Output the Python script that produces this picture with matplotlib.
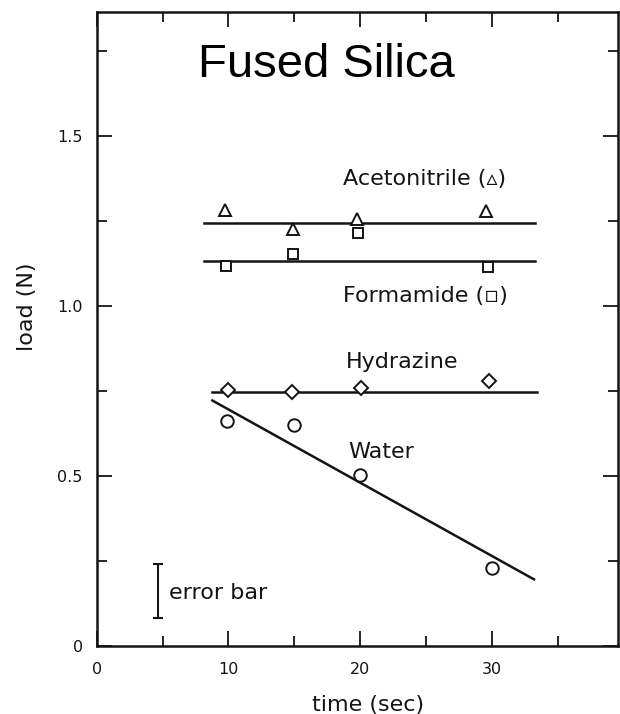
#!/usr/bin/env python
"""Load versus time for liquids on fused silica."""

import matplotlib.pyplot as plt
import matplotlib.ticker as mticker


# Data
# ----

# acetonitrile (triangles) and its mean level
acn_time = [9.74, 14.88, 19.74, 29.56]
acn_load = [1.282, 1.225, 1.254, 1.279]
acn_fit_time = [8.15, 33.28]
acn_fit_load = [1.242, 1.242]

# formamide (squares) and its mean level
frm_time = [9.82, 14.93, 19.82, 29.73]
frm_load = [1.117, 1.152, 1.213, 1.113]
frm_fit_time = [8.15, 33.28]
frm_fit_load = [1.132, 1.132]

# hydrazine (diamonds) and its mean level
hyd_time = [9.95, 14.81, 20.07, 29.81]
hyd_load = [0.752, 0.745, 0.757, 0.779]
hyd_fit_time = [8.73, 33.41]
hyd_fit_load = [0.747, 0.747]

# water (circles) and its linear decay
wat_time = [9.87, 14.96, 19.99, 29.99]
wat_load = [0.661, 0.649, 0.502, 0.229]
wat_fit_time = [8.78, 33.2]
wat_fit_load = [0.721, 0.195]

# typical error bar
err_time = [4.65]
err_load = [0.16]
err_half = [0.08]

# axis ticks
xticks = [0, 10, 20, 30]
xlabels = ['0', '10', '20', '30']
yticks = [0, 0.5, 1.0, 1.5]
ylabels = ['0', '0.5', '1.0', '1.5']


# Figure
# ------

plt.rc('font', family='DejaVu Sans')
ink = '#141414'

fig = plt.figure(figsize=(6.2, 7.14), dpi=100)
ax = fig.add_axes([0.156, 0.0957, 0.8408, 0.8868])
ax.set_xlim(0, 39.58)
ax.set_ylim(0, 1.862)

# spines and inward ticks on all four sides
for spine in ax.spines.values():
    spine.set_linewidth(1.8)
    spine.set_color(ink)
ax.set_xticks(xticks)
ax.set_xticklabels(xlabels)
ax.set_yticks(yticks)
ax.set_yticklabels(ylabels)
ax.xaxis.set_minor_locator(mticker.MultipleLocator(5))
ax.yaxis.set_minor_locator(mticker.MultipleLocator(0.25))
ax.tick_params(which='both', direction='in', top=True, right=True,
               color=ink, labelcolor=ink, labelsize=11.5)
ax.tick_params(which='major', length=11, width=1.3)
ax.tick_params(which='minor', length=7, width=1.3)
ax.tick_params(axis='x', pad=12)
ax.tick_params(axis='y', pad=10)

# fitted lines
kw = dict(color=ink, lw=1.8, zorder=2)
ax.plot(acn_fit_time, acn_fit_load, **kw)
ax.plot(frm_fit_time, frm_fit_load, **kw)
ax.plot(hyd_fit_time, hyd_fit_load, **kw)
ax.plot(wat_fit_time, wat_fit_load, **kw)

# open markers
kw = dict(ls='none', mfc='white', mec=ink, mew=1.4, zorder=3)
ax.plot(acn_time, acn_load, marker='^', ms=8.5, **kw)
ax.plot(frm_time, frm_load, marker='s', ms=7, **kw)
ax.plot(hyd_time, hyd_load, marker='D', ms=7.5, **kw)
ax.plot(wat_time, wat_load, marker='o', ms=9, **kw)

# error bar sample
ax.errorbar(err_time, err_load, yerr=err_half, fmt='none', ecolor=ink,
            elinewidth=1.5, capsize=3.5, capthick=1.5)
ax.text(5.45, 0.137, 'error bar', color=ink, fontsize=16, va='baseline')

# series labels
kw = dict(color=ink, fontsize=16, va='baseline', ha='left')
ax.text(18.68, 1.355, 'Acetonitrile (\u25b5)', **kw)
ax.text(18.72, 1.012, 'Formamide (\u25ab)', **kw)
ax.text(18.9, 0.816, 'Hydrazine', **kw)
ax.text(19.1, 0.552, 'Water', **kw)

# title inside the frame
ax.text(17.4, 1.672, 'Fused Silica', family='Liberation Sans',
        fontsize=34, color='black', ha='center', va='baseline')

ax.set_xlabel('time (sec)', fontsize=16, color=ink)
ax.set_ylabel('load (N)', fontsize=16, color=ink)
ax.xaxis.set_label_coords(0.52, -0.078)
ax.yaxis.set_label_coords(-0.1145, 0.535)

fig.savefig('out.png', dpi=100, facecolor='white')
